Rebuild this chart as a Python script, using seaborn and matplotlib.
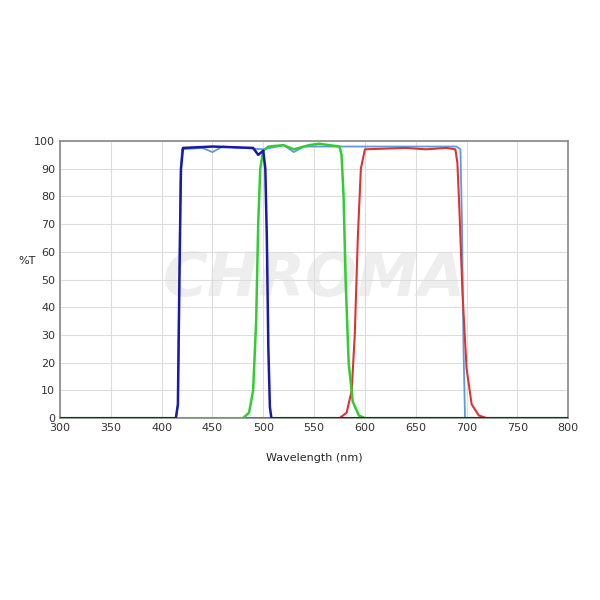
import matplotlib
matplotlib.use('Agg')
import matplotlib.pyplot as plt
import seaborn as sns
import pandas as pd

lum_x = [300, 414, 416, 417, 418.5, 420, 440, 450, 460, 500, 520, 530, 540, 600, 650, 690, 694, 695.5, 697, 698.5, 800]
lum_y = [0, 0, 5, 40, 85, 97, 97.5, 96, 98, 97, 98.5, 96, 98, 98, 98, 98, 97, 70, 25, 0, 0]
blue_x = [300, 414, 416, 417.5, 419, 421, 450, 490, 495, 500, 502, 503.5, 505, 506.5, 508, 800]
blue_y = [0, 0, 5, 50, 90, 97.5, 98, 97.5, 95, 96.5, 90, 65, 25, 4, 0, 0]
green_x = [300, 480, 486, 490, 493, 495, 497, 500, 505, 520, 530, 545, 555, 575, 577, 579, 581, 584, 588, 594, 600, 800]
green_y = [0, 0, 2, 10, 35, 70, 90, 96.5, 98, 98.5, 97, 98.5, 99, 98, 95, 80, 50, 20, 6, 1, 0, 0]
red_x = [300, 575, 582, 587, 590, 593, 596, 600, 640, 660, 680, 689, 691, 693, 696, 700, 705, 712, 720, 800]
red_y = [0, 0, 2, 10, 30, 65, 90, 97, 97.5, 97, 97.5, 97, 92, 75, 45, 18, 5, 1, 0, 0]

sns.set_style('white')
plt.rcParams['font.family'] = ['DejaVu Sans']
fig = plt.figure(figsize=(6, 6), dpi=100)
ax = fig.add_axes([0.1, 0.303, 0.847, 0.462])

ax.text(0.5, 0.5, 'CHROMA', transform=ax.transAxes, fontsize=44, fontweight='bold',
        fontstyle='italic', color='#eeeeee', ha='center', va='center', zorder=0)

for xs, ys, c, lw in [(lum_x, lum_y, '#5b9be0', 1.3), (red_x, red_y, '#dd3333', 1.5),
                      (green_x, green_y, '#33cc33', 1.8), (blue_x, blue_y, '#1a1aa8', 1.8)]:
    sns.lineplot(data=pd.DataFrame({'x': xs, 'y': ys}), x='x', y='y', color=c, lw=lw, ax=ax, zorder=3)

ax.set_xlim(300, 800)
ax.set_ylim(0, 100)
ax.set_xticks(range(300, 801, 50))
ax.set_yticks(range(0, 101, 10))
ax.grid(True, color='#dddddd', lw=0.8)
ax.tick_params(labelsize=8, colors='#333333', length=0)
for s in ax.spines.values():
    s.set_color('#888888')
    s.set_linewidth(1.2)
ax.set_xlabel('Wavelength (nm)', fontsize=8, labelpad=14)
ax.set_ylabel('%T', fontsize=8, rotation=0, labelpad=8)
ax.yaxis.set_label_coords(-0.065, 0.55)
fig.savefig('out.png', dpi=100)
